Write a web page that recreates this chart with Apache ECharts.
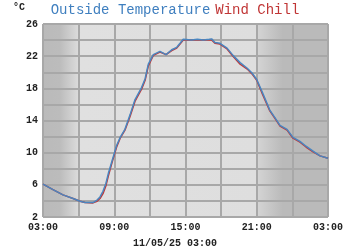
<!DOCTYPE html>
<html>
<head>
<meta charset="utf-8">
<script src="https://cdn.jsdelivr.net/npm/echarts@6/dist/echarts.min.js"></script>
<style>
  html, body { margin: 0; padding: 0; background: #fff; }
  #chart { width: 350px; height: 250px; }
</style>
</head>
<body>
<div id="chart"></div>
<script>
// hours since 03:00 on 11/05/25
var hours = [0, 0.84, 1.68, 2.53, 3.12, 3.54, 4.21, 4.55, 4.8, 5.05, 5.3, 5.5, 5.8, 6.2, 6.5, 6.9, 7.33, 7.75, 8.3, 8.6, 8.87,
  9.29, 9.85, 10.36, 10.84, 11.26, 11.54, 11.81, 12.5, 13, 13.5, 14, 14.2, 14.48, 14.9, 15.5, 16, 16.6, 17.2, 17.6, 18,
  18.5, 19.1, 19.6, 19.96, 20.55, 21.05, 21.64, 22.15, 22.74, 23.33, 24];
var outsideTemp = [6.1, 5.4, 4.75, 4.3, 3.95, 3.8, 3.8, 4.1, 4.5, 5.2, 6.2, 7.4, 8.9, 10.9, 11.9, 12.9, 14.7, 16.6, 18.1, 19.2, 21.0,
  22.2, 22.6, 22.2, 22.8, 23.1, 23.6, 24.1, 24.0, 24.1, 24.0, 24.1, 24.15, 23.7, 23.6, 23.0, 22.1, 21.2, 20.5, 19.9, 19.1,
  17.4, 15.3, 14.2, 13.4, 12.9, 11.9, 11.4, 10.8, 10.2, 9.6, 9.3];
var windChill = [6.1, 5.4, 4.75, 4.3, 3.95, 3.8, 3.75, 3.95, 4.3, 4.9, 5.9, 7.1, 8.7, 10.7, 11.8, 12.8, 14.5, 16.4, 17.9, 19.0, 20.8,
  22.1, 22.5, 22.2, 22.7, 23.0, 23.5, 24.0, 24.0, 24.0, 24.0, 24.0, 24.0, 23.6, 23.5, 22.9, 22.0, 21.0, 20.4, 19.8, 19.0,
  17.2, 15.2, 14.1, 13.3, 12.8, 11.8, 11.3, 10.7, 10.1, 9.6, 9.3];
var xTicks = ['03:00', '06:00', '09:00', '12:00', '15:00', '18:00', '21:00', '00:00', '03:00'];
var dateLabel = '11/05/25 03:00';

function pairs(xs, ys) {
  var res = [];
  for (var i = 0; i < xs.length; i++) res.push([xs[i], ys[i]]);
  return res;
}

var chart = echarts.init(document.getElementById('chart'), null, { renderer: 'canvas' });
var mono = "'Liberation Mono', 'DejaVu Sans Mono', monospace";
var gridColor = '#a8a8a8';

var option = {
  animation: false,
  backgroundColor: '#ffffff',
  title: [{
    text: '{a|Outside Temperature} {b|Wind Chill}',
    left: 'center',
    top: -4,
    textStyle: {
      fontWeight: 'normal',
      rich: {
        a: { color: '#3f7fbf', fontFamily: mono, fontSize: 14, fontWeight: 'normal' },
        b: { color: '#c03535', fontFamily: mono, fontSize: 14, fontWeight: 'normal' }
      }
    }
  }, {
    text: '°C',
    left: 8,
    top: -3,
    textStyle: { color: '#222', fontFamily: mono, fontSize: 10, fontWeight: 'bold' }
  }, {
    text: dateLabel,
    left: 'center',
    top: 233,
    textStyle: { color: '#222', fontFamily: mono, fontSize: 10, fontWeight: 'bold' }
  }],
  grid: {
    left: 43, right: 22, top: 24, bottom: 33,
    show: true,
    borderColor: gridColor,
    borderWidth: 1,
    backgroundColor: new echarts.graphic.LinearGradient(0, 0, 1, 0, [
      { offset: 0, color: '#bababa' },
      { offset: 0.06, color: '#bcbcbc' },
      { offset: 0.123, color: '#dadada' },
      { offset: 0.13, color: '#e0e0e0' },
      { offset: 0.748, color: '#dedede' },
      { offset: 0.752, color: '#d4d4d4' },
      { offset: 0.84, color: '#bababa' },
      { offset: 1, color: '#bababa' }
    ])
  },
  xAxis: {
    type: 'value',
    min: 0, max: 24, interval: 3,
    axisLine: { show: false },
    axisTick: { show: false },
    splitLine: { show: true, lineStyle: { color: gridColor, width: 2 } },
    axisLabel: {
      margin: 5,
      color: '#222', fontFamily: mono, fontSize: 10, fontWeight: 'bold',
      formatter: function (v) {
        return (v % 6 === 0) ? xTicks[v / 3] : '';
      }
    }
  },
  yAxis: {
    type: 'value',
    min: 2, max: 26, interval: 2,
    axisLine: { show: false },
    axisTick: { show: false },
    splitLine: { show: true, lineStyle: { color: gridColor, width: 2 } },
    axisLabel: {
      margin: 5,
      color: '#222', fontFamily: mono, fontSize: 10, fontWeight: 'bold',
      formatter: function (v) {
        return ((v - 2) % 4 === 0) ? String(v) : '';
      }
    }
  },
  series: [{
    name: 'Wind Chill',
    type: 'line',
    data: pairs(hours, windChill),
    showSymbol: false,
    lineStyle: { color: '#c03535', width: 1.5 }
  }, {
    name: 'Outside Temperature',
    type: 'line',
    data: pairs(hours, outsideTemp),
    showSymbol: false,
    lineStyle: { color: '#4a86c0', width: 1.5 }
  }]
};

chart.setOption(option);
</script>
</body>
</html>
